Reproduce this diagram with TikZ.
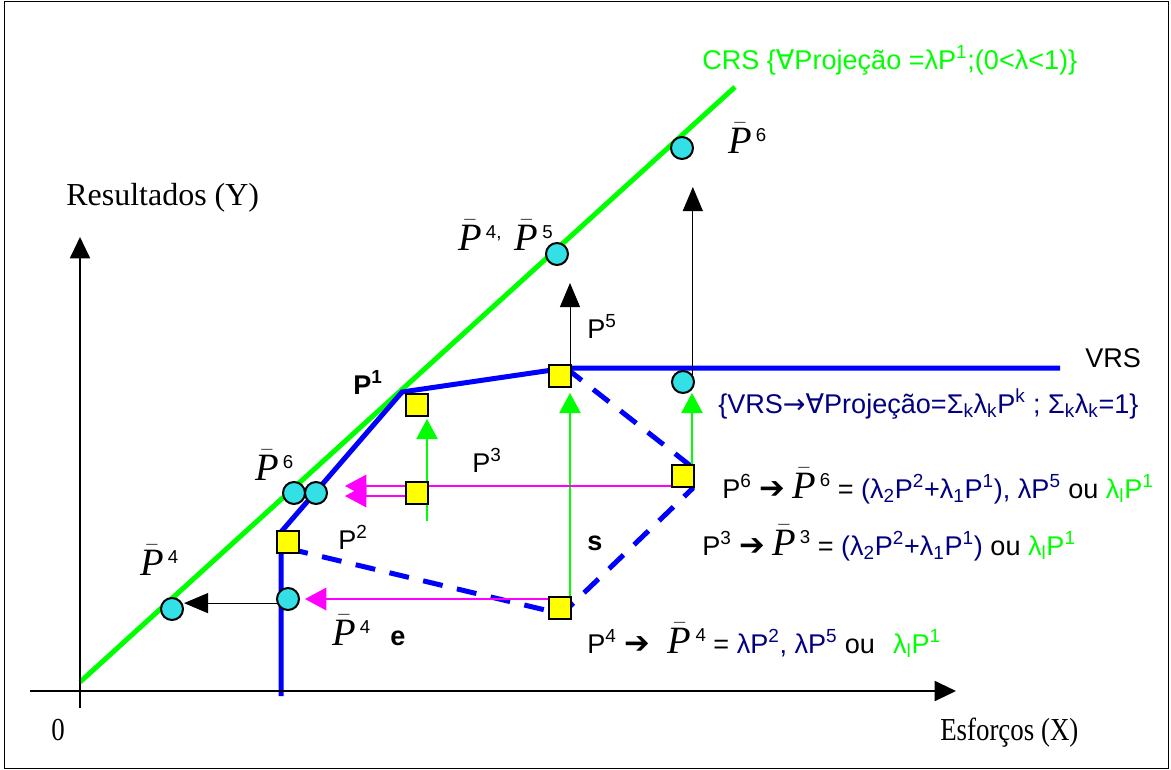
\documentclass[tikz,border=0pt]{standalone}
\usepackage{fontspec}
\setmainfont{Liberation Serif}
\setsansfont{Liberation Sans}
\newfontfamily\symfont{DejaVu Sans}
\usetikzlibrary{arrows.meta, backgrounds}
\definecolor{crsGreen}{HTML}{00FF00}
\definecolor{vrsBlue}{HTML}{0000FF}
\definecolor{txtNavy}{HTML}{000080}
\definecolor{projMagenta}{HTML}{FF00FF}
\definecolor{projCyan}{HTML}{33E0E6}
\definecolor{obsYellow}{HTML}{FFFF00}
\newcommand{\Pbar}[1]{{\fontsize{29}{29}\selectfont\rmfamily\itshape$\bar{\mbox{P}}$}\hspace{3pt}\raisebox{9pt}{\fontsize{14}{14}\selectfont#1}}
\newcommand{\sarr}{{\symfont\bfseries\fontsize{23}{23}\selectfont ➔}}
\newcommand{\fa}{{\symfont ∀}}

\begin{document}
\begin{tikzpicture}[x=0.75pt, y=-0.75pt,
    font=\sffamily\fontsize{20.3}{23}\selectfont,
    obs/.style={rectangle, draw, line width=1.5pt, fill=obsYellow, minimum size=16.5pt, inner sep=0pt},
    proj/.style={circle, draw, line width=1.5pt, fill=projCyan, minimum size=16.5pt, inner sep=0pt},
    lbl/.style={anchor=base west, inner sep=0pt},
    serif/.style={font=\rmfamily\fontsize{24}{26}\selectfont},
    axis/.style={line width=1.5pt, -{Triangle[length=16pt, width=15pt]}},
    blkarrow/.style={line width=0.75pt, -{Triangle[length=18pt, width=15pt]}},
    grnarrow/.style={crsGreen, line width=0.9pt, -{Triangle[length=15pt, width=16pt]}},
    magarrow/.style={projMagenta, line width=0.9pt, -{Triangle[length=16pt, width=17pt]}},
    frontier/.style={vrsBlue, line width=3.75pt},
    dashfront/.style={vrsBlue, line width=3.75pt, dash pattern=on 15pt off 11pt},
    crsline/.style={crsGreen, line width=3.75pt}]
  \useasboundingbox (0,0) rectangle (1171,769);
  \draw[line width=0.75pt] (4,1) rectangle (1168,768);

  % observed units
  \node[obs] (p1) at (417,405) {};
  \node[obs] (p5) at (560,376) {};
  \node[obs] (p6) at (683,476) {};
  \node[obs] (p3) at (417,493) {};
  \node[obs] (p2) at (288,542) {};
  \node[obs] (p4) at (560,608) {};

  % projections
  \node[proj] (c6c) at (682,148) {};
  \node[proj] (c45) at (557,254) {};
  \node[proj] (c6v) at (683,382) {};
  \node[proj] (c6a) at (294,493) {};
  \node[proj] (c6b) at (316,493) {};
  \node[proj] (c4c) at (172,609) {};
  \node[proj] (c4v) at (288,599) {};

  % frontiers and axes
  \coordinate (f0) at (281,696);
  \coordinate (f1) at (281,532);
  \coordinate (f2) at (402,392);
  \coordinate (f3) at (566,368);
  \coordinate (f4) at (1060,368);
  \coordinate (d1) at (692,467);
  \coordinate (d2) at (692,489);
  \coordinate (d3) at (562,614);
  \coordinate (d4) at (290,549);
  \coordinate (t5) at (570,283);
  \coordinate (t6) at (692,187);
  \coordinate (g1s) at (427,521);
  \coordinate (g1) at (427,419);
  \coordinate (g5) at (570,393);
  \coordinate (g6) at (692,393);
  \coordinate (m6) at (345,486);
  \coordinate (m3) at (345,496);
  \coordinate (m4) at (305,599);
  \begin{scope}[on background layer]
    \draw[crsline] (80,682) -- (735,87);
    \draw[frontier] (f0) -- (f1) -- (f2) -- (f3) -- (f4);
    \draw[dashfront] (f3) -- (d1) -- (d2) -- (d3) -- (d4);
    \draw[axis] (30,691) -- (956,691);
    \draw[axis] (80,708) -- (80,237);
    \draw[blkarrow] (p5.north -| t5) -- (t5);
    \draw[blkarrow] (c6v.35) -- (c6v.35 |- t6);
    \draw[blkarrow] (c4v.200) -- (c4v.200 -| c4c.east);
    \draw[grnarrow] (g1s) -- (g1);
    \draw[grnarrow] (p4.north -| g5) -- (g5);
    \draw[grnarrow] (p6.north -| g6) -- (g6);
    \draw[magarrow] (p6.west |- m6) -- (m6);
    \draw[magarrow] (p3.west |- m3) -- (m3);
    \draw[magarrow] (p4.west |- m4) -- (m4);
  \end{scope}

  % labels
  \node[lbl, crsGreen] (crs) at (702,69) {CRS \{\fa Projeção =λP\textsuperscript{1};(0<λ<1)\}};
  \node[lbl, serif] (ylab) at (66,205) {Resultados (Y)};
  \node[lbl, serif] (xlab) at (940,740) {\scalebox{0.84}[1]{Esforços (X)}};
  \node[lbl, serif] (zero) at (51,740) {\scalebox{0.84}[1]{0}};
  \node[lbl] (l6c) at (728,153) {\Pbar{6}};
  \node[lbl] (l45) at (458,250) {\Pbar{4,}\hspace{10pt}\Pbar{5}};
  \node[lbl] (l5) at (587,338) {P\textsuperscript{5}};
  \node[lbl, font=\sffamily\bfseries\fontsize{20.3}{23}\selectfont] (l1) at (353,394) {P\textsuperscript{1}};
  \node[lbl] (lvrs) at (1085,367) {VRS};
  \node[lbl, txtNavy] (vrs) at (718,413) {\{VRS{\symfont →}\fa Projeção=Σ\textsubscript{k}λ\textsubscript{k}P\textsuperscript{k} ; Σ\textsubscript{k}λ\textsubscript{k}=1\}};
  \node[lbl] (l3) at (472,472) {P\textsuperscript{3}};
  \node[lbl] (l6a) at (255,480) {\Pbar{6}};
  \node[lbl] (l2) at (338,549) {P\textsuperscript{2}};
  \node[lbl, font=\sffamily\bfseries\fontsize{20.3}{23}\selectfont] (ls) at (587,550) {s};
  \node[lbl] (l4c) at (140,575) {\Pbar{4}};
  \node[lbl] (l4v) at (332,645) {\Pbar{4}};
  \node[lbl, font=\sffamily\bfseries\fontsize{20.3}{23}\selectfont] (le) at (390,645) {e};
  \node[lbl] (e6) at (722,498) {P\textsuperscript{6} \sarr{} \Pbar{6} = \textcolor{txtNavy}{(λ\textsubscript{2}P\textsuperscript{2}+λ\textsubscript{1}P\textsuperscript{1}), λP\textsuperscript{5}} ou \textcolor{crsGreen}{λ\textsubscript{l}P\textsuperscript{1}}};
  \node[lbl] (e3) at (702,555) {P\textsuperscript{3} \sarr{} \Pbar{3} = \textcolor{txtNavy}{(λ\textsubscript{2}P\textsuperscript{2}+λ\textsubscript{1}P\textsuperscript{1})} ou \textcolor{crsGreen}{λ\textsubscript{l}P\textsuperscript{1}}};
  \node[lbl] (e4) at (587,653) {P\textsuperscript{4} \sarr{}\hspace{8pt} \Pbar{4} = \textcolor{txtNavy}{λP\textsuperscript{2}, λP\textsuperscript{5}} ou\hspace{8pt} \textcolor{crsGreen}{λ\textsubscript{l}P\textsuperscript{1}}};
\end{tikzpicture}
\end{document}
